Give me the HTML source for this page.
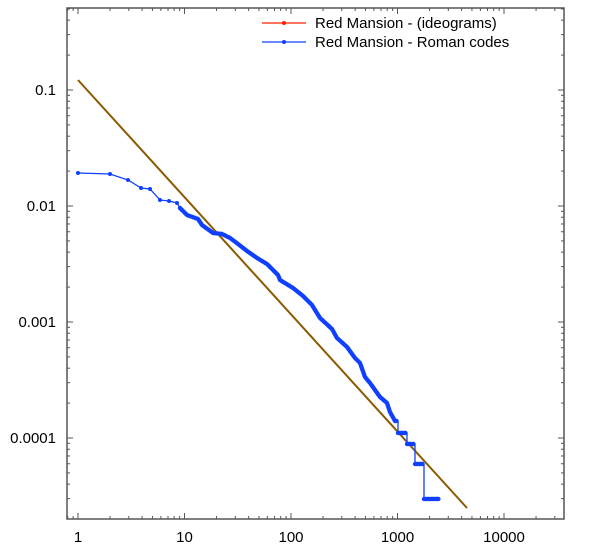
<!DOCTYPE html>
<html><head><meta charset="utf-8"><style>
html,body{margin:0;padding:0;background:#fff;}
svg text{font-family:"Liberation Sans",Arial,sans-serif;fill:#000;}
</style></head><body>
<svg id="s" width="600" height="554" xmlns="http://www.w3.org/2000/svg">
<rect x="67" y="8" width="497" height="511" fill="none" stroke="#555" stroke-width="1.5"/>
<g id="ticks" stroke="#555" stroke-width="1"></g>
<g font-size="15">
<text x="78" y="542" text-anchor="middle">1</text>
<text x="184.5" y="542" text-anchor="middle">10</text>
<text x="291" y="542" text-anchor="middle">100</text>
<text x="397.5" y="542" text-anchor="middle">1000</text>
<text x="504" y="542" text-anchor="middle">10000</text>
<text x="56" y="95" text-anchor="end">0.1</text>
<text x="56" y="211" text-anchor="end">0.01</text>
<text x="56" y="327" text-anchor="end">0.001</text>
<text x="56" y="443" text-anchor="end">0.0001</text>
</g>
<line x1="78" y1="80" x2="467" y2="508" stroke="#8b5a00" stroke-width="2"/>
<g id="data"></g>
<line x1="262" y1="23" x2="306" y2="23" stroke="#ff2000" stroke-width="1.2"/>
<circle cx="284" cy="23" r="2" fill="#ff2000"/>
<line x1="262" y1="42" x2="306" y2="42" stroke="#1040ff" stroke-width="1.2"/>
<circle cx="284" cy="42" r="2" fill="#1040ff"/>
<text x="315" y="28" font-size="15">Red Mansion - (ideograms)</text>
<text x="315" y="47" font-size="15">Red Mansion - Roman codes</text>
</svg>
<script>
var NS="http://www.w3.org/2000/svg";
function el(p,t,a){var e=document.createElementNS(NS,t);for(var k in a)e.setAttribute(k,a[k]);p.appendChild(e);return e;}
var tk=document.getElementById("ticks");
var X0=78,DX=106.5,Y1=90,DY=116;
for(var d=-1;d<5;d++)for(var m=1;m<10;m++){var x=X0+DX*(d+Math.log10(m));if(x<=67||x>=564)continue;var L=m==1?6:3;
el(tk,"line",{x1:x,y1:519,x2:x,y2:519-L});el(tk,"line",{x1:x,y1:8,x2:x,y2:8+L});}
for(var d=-6;d<1;d++)for(var m=1;m<10;m++){var y=Y1-DY*(d+1+Math.log10(m));if(y<=8||y>=519)continue;var L=m==1?6:3;
el(tk,"line",{x1:67,y1:y,x2:67+L,y2:y});el(tk,"line",{x1:564,y1:y,x2:564-L,y2:y});}
var sparse=[[78,173],[110,174],[128,180],[141,188],[150,189],[160,200],[169,201],[177,203],[180,208]];
var dense=[[180,208],[187,215],[198,219],[202,225],[213,233],[222,234],[230,238],[238,244],[247,251],[257,258],[267,264],[278,275],[280,280],[293,288],[303,296],[312,305],[320,318],[332,329],[337,338],[347,347],[355,358],[360,363],[365,377],[370,383],[375,390],[380,397],[387,403],[390,412],[395,421],[398,421],[398,433],[407,433],[407,444],[415,444],[415,464],[424,464],[424,499],[440,499]];
var all=sparse.concat(dense.slice(1));
var g=document.getElementById("data");
el(g,"polyline",{points:all.map(function(p){return p.join(",")}).join(" "),fill:"none",stroke:"#1040ff","stroke-width":1.3});
sparse.forEach(function(p){el(g,"circle",{cx:p[0],cy:p[1],r:2,fill:"#1040ff"});});
for(var i=0;i<dense.length-1;i++){var a=dense[i],b=dense[i+1];var len=Math.hypot(b[0]-a[0],b[1]-a[1]);
var vert=(a[0]==b[0]&&len>6);if(vert)continue;var n=Math.max(1,Math.round(len/1.6));
for(var j=0;j<n;j++){var t=j/n;el(g,"circle",{cx:a[0]+(b[0]-a[0])*t,cy:a[1]+(b[1]-a[1])*t,r:2.2,fill:"#1040ff"});}}
</script>
</body></html>
